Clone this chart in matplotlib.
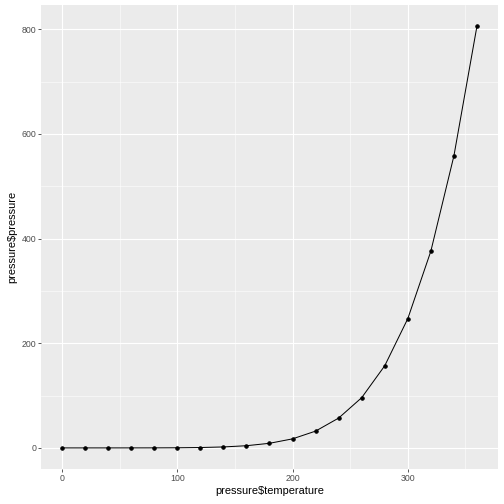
import numpy as np
import matplotlib
matplotlib.use("Agg")
import matplotlib.pyplot as plt
from matplotlib.ticker import MultipleLocator

plt.rcParams['font.family'] = ['Liberation Sans', 'DejaVu Sans']

temperature = [0, 20, 40, 60, 80, 100, 120, 140, 160, 180,
               200, 220, 240, 260, 280, 300, 320, 340, 360]
pressure = [0.0002, 0.0012, 0.006, 0.03, 0.09, 0.27, 0.75, 1.85, 4.2, 8.8,
            17.3, 32.1, 57.0, 96.0, 157.0, 247.0, 376.0, 558.0, 806.0]

fig = plt.figure(figsize=(7, 7), dpi=72)
ax = fig.add_axes([41.2/504, 1-469/504, (497.7-41.2)/504, (469-5.1)/504])
ax.set_facecolor('#EBEBEB')

ax.plot(temperature, pressure, color='black', lw=1.0, zorder=3)
ax.scatter(temperature, pressure, s=12, color='black', zorder=4)

ax.set_xlim(-18, 378)
ax.set_ylim(-40.3, 846.3)
ax.xaxis.set_major_locator(MultipleLocator(100))
ax.xaxis.set_minor_locator(MultipleLocator(50))
ax.yaxis.set_major_locator(MultipleLocator(200))
ax.yaxis.set_minor_locator(MultipleLocator(100))
ax.grid(which='major', color='white', lw=1.1, zorder=0)
ax.grid(which='minor', color='white', lw=0.55, zorder=0)
ax.set_axisbelow(True)
for s in ax.spines.values():
    s.set_visible(False)

ax.tick_params(which='major', length=3, width=0.8, color='#333333',
               labelcolor='#4D4D4D', labelsize=8.8, pad=2)
ax.tick_params(which='minor', length=0)

ax.set_xlabel('pressure$temperature', fontsize=11, color='black', labelpad=3)
ax.set_ylabel('pressure$pressure', fontsize=11, color='black', labelpad=4)

fig.savefig('out.png', dpi=72)
